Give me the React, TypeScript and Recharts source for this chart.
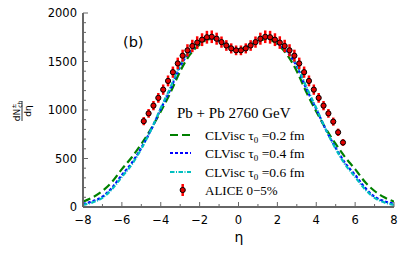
import React from 'react';
import { ComposedChart, Line, Scatter, XAxis, YAxis, ErrorBar, Customized } from 'recharts';

// Model curves (CLVisc) sampled in eta
const ETA_MODEL = [-8, -7.5, -7, -6.5, -6, -5.5, -5, -4.5, -4, -3.5, -3, -2.5, -2, -1.5, -1, -0.5, 0, 0.5, 1, 1.5, 2, 2.5, 3, 3.5, 4, 4.5, 5, 5.5, 6, 6.5, 7, 7.5, 8];
const TAU02 = [55, 100, 165, 260, 390, 510, 650, 805, 985, 1180, 1400, 1570, 1675, 1730, 1712, 1655, 1625, 1655, 1712, 1730, 1675, 1570, 1400, 1180, 985, 805, 650, 510, 390, 260, 165, 100, 55];
const TAU04 = [31, 60, 106, 200, 330, 450, 610, 795, 1010, 1215, 1450, 1600, 1688, 1740, 1712, 1655, 1620, 1655, 1712, 1740, 1688, 1600, 1450, 1215, 1010, 795, 610, 450, 330, 200, 106, 60, 31];
const TAU06 = [22, 48, 95, 185, 310, 435, 600, 795, 1020, 1235, 1465, 1612, 1695, 1742, 1712, 1652, 1618, 1652, 1712, 1742, 1695, 1612, 1465, 1235, 1020, 795, 600, 435, 310, 185, 95, 48, 22];

// ALICE 0-5% data
const ALICE_ETA = [-4.875, -4.625, -4.375, -4.125, -3.875, -3.625, -3.375, -3.125, -2.875, -2.625, -2.375, -2.125, -1.875, -1.625, -1.375, -1.125, -0.875, -0.625, -0.375, -0.125, 0.125, 0.375, 0.625, 0.875, 1.125, 1.375, 1.625, 1.875, 2.125, 2.375, 2.625, 2.875, 3.125, 3.375, 3.625, 3.875, 4.125, 4.375, 4.625, 4.875, 5.125, 5.375];
const ALICE_VAL = [885, 965, 1045, 1125, 1210, 1300, 1390, 1480, 1560, 1615, 1660, 1695, 1725, 1750, 1755, 1735, 1700, 1665, 1635, 1615, 1615, 1635, 1665, 1700, 1735, 1755, 1750, 1725, 1695, 1660, 1615, 1560, 1480, 1390, 1300, 1210, 1125, 1045, 965, 880, 770, 665];
const ALICE_ERR = [42, 45, 48, 50, 53, 56, 58, 60, 62, 63, 64, 65, 66, 66, 65, 62, 58, 55, 52, 50, 50, 52, 55, 58, 62, 65, 66, 66, 65, 64, 63, 62, 60, 58, 56, 53, 50, 48, 45, 42, 38, 35];

const X_TICKS = [-8, -7, -6, -5, -4, -3, -2, -1, 0, 1, 2, 3, 4, 5, 6, 7, 8];
const X_LABELS = [-8, -6, -4, -2, 0, 2, 4, 6, 8];
const Y_TICKS = [0, 100, 200, 300, 400, 500, 600, 700, 800, 900, 1000, 1100, 1200, 1300, 1400, 1500, 1600, 1700, 1800, 1900, 2000];
const Y_LABELS = [0, 500, 1000, 1500, 2000];

const LEGEND = ['CLVisc τ0 =0.2 fm', 'CLVisc τ0 =0.4 fm', 'CLVisc τ0 =0.6 fm', 'ALICE 0−5%'];
const TITLE = 'Pb + Pb 2760 GeV';
const PANEL = '(b)';

const toPts = (vals: number[]) => ETA_MODEL.map((e, i) => ({ eta: e, v: vals[i] }));
const g02 = toPts(TAU02);
const g04 = toPts(TAU04);
const g06 = toPts(TAU06);
const alice = ALICE_ETA.map((e, i) => ({ eta: e, v: ALICE_VAL[i], err: ALICE_ERR[i] }));

const AX = '#666666';
const SANS = 'DejaVu Sans, sans-serif';
const SERIF = 'Liberation Serif, Times New Roman, serif';
const fmt = (v: number) => String(v).replace('-', '\u2212');
const OFF = 6; // chart is shifted up by OFF px so the top label has room

const BottomTick = (p: any) => {
  const v = p.payload.value;
  const major = X_LABELS.includes(v);
  return (
    <g>
      <line x1={p.x} x2={p.x} y1={p.y} y2={p.y - (major ? 5 : 3)} stroke={AX} strokeWidth={1} />
      {major && (
        <text x={p.x} y={p.y + 17} textAnchor="middle" fontSize={11.5} fontFamily={SANS} fill="#000">{fmt(v)}</text>
      )}
    </g>
  );
};
const TopTick = (p: any) => {
  const v = p.payload.value;
  const major = X_LABELS.includes(v);
  return <line x1={p.x} x2={p.x} y1={p.y} y2={p.y + (major ? 5 : 3)} stroke={AX} strokeWidth={1} />;
};
const LeftTick = (p: any) => {
  const v = p.payload.value;
  const major = Y_LABELS.includes(v);
  return (
    <g>
      <line x1={p.x} x2={p.x + (major ? 5 : 3)} y1={p.y} y2={p.y} stroke={AX} strokeWidth={1} />
      {major && (
        <text x={p.x - 6} y={p.y + 4} textAnchor="end" fontSize={11.5} fontFamily={SANS} fill="#000">{v}</text>
      )}
    </g>
  );
};
const RightTick = (p: any) => {
  const v = p.payload.value;
  const major = Y_LABELS.includes(v);
  return <line x1={p.x} x2={p.x - (major ? 5 : 3)} y1={p.y} y2={p.y} stroke={AX} strokeWidth={1} />;
};

const Dot = (p: any) => <circle cx={p.cx} cy={p.cy} r={2.6} fill="#e00000" stroke="#000" strokeWidth={1} />;

const YLabel = () => (
  <g transform={`translate(14,${103 + OFF}) rotate(-90)`} fontFamily={SANS} fill="#000">
    <text x={0} y={-2.5} textAnchor="middle" fontSize={9}>
      dN<tspan fontSize={6} dy={-4}>±</tspan><tspan fontSize={6} dy={6} dx={-4}>ch</tspan>
    </text>
    <line x1={-10} x2={10} y1={0} y2={0} stroke="#000" strokeWidth={0.8} />
    <text x={0} y={9} textAnchor="middle" fontSize={9}>dη</text>
  </g>
);

const Annotations = () => {
  const rows = [127, 145, 164, 182].map((r) => r + OFF);
  const tx = 197;
  return (
    <g>
      <text x={115} y={39 + OFF} fontSize={14.5} fontFamily={SANS} fill="#000">{PANEL}</text>
      <text x={169} y={110 + OFF} fontSize={15} fontFamily={SERIF} fill="#000">{TITLE}</text>
      <line x1={162} x2={183} y1={rows[0]} y2={rows[0]} stroke="#008000" strokeWidth={2.2} strokeDasharray="8 4" />
      <line x1={162} x2={183} y1={rows[1]} y2={rows[1]} stroke="#0000ff" strokeWidth={2.2} strokeDasharray="3 2" />
      <line x1={162} x2={183} y1={rows[2]} y2={rows[2]} stroke="#00bfbf" strokeWidth={2.2} strokeDasharray="4.5 1.5 1 1.5" />
      <line x1={174.7} x2={174.7} y1={rows[3] - 6} y2={rows[3] + 6} stroke="#ff0000" strokeWidth={2.5} />
      <circle cx={174.7} cy={rows[3]} r={2.6} fill="#e00000" stroke="#000" strokeWidth={1} />
      {LEGEND.slice(0, 3).map((s, i) => {
        const [pre, post] = s.split('τ0');
        return (
          <text key={i} x={tx} y={rows[i] + 4.5} fontSize={13.5} fontFamily={SERIF} fill="#000">
            {pre}τ<tspan fontSize={9} dy={3}>0</tspan><tspan dy={-3}>{post}</tspan>
          </text>
        );
      })}
      <text x={tx} y={rows[3] + 4.5} fontSize={13} fontFamily={SERIF} fill="#000">{LEGEND[3]}</text>
      <text x={231} y={234 + OFF} textAnchor="middle" fontSize={14} fontFamily={SANS} fill="#000">η</text>
      <YLabel />
    </g>
  );
};

export default function App() {
  return (
    <div style={{ marginTop: -OFF }}>
      <ComposedChart width={415} height={260 + OFF} margin={{ top: 5 + OFF, right: 29, left: 0, bottom: 31 }}>
        <XAxis xAxisId="b" dataKey="eta" type="number" domain={[-8, 8]} ticks={X_TICKS} allowDataOverflow
          orientation="bottom" height={30} tickSize={0} tickMargin={0} tickLine={false}
          axisLine={{ stroke: AX, strokeWidth: 2 }} tick={BottomTick} interval={0} />
        <XAxis xAxisId="t" dataKey="eta" type="number" domain={[-8, 8]} ticks={X_TICKS} allowDataOverflow
          orientation="top" height={0} tickSize={0} tickMargin={0} tickLine={false}
          axisLine={{ stroke: AX, strokeWidth: 1.2 }} tick={TopTick} interval={0} />
        <YAxis yAxisId="l" type="number" domain={[0, 2000]} ticks={Y_TICKS} allowDataOverflow
          orientation="left" width={75} tickSize={0} tickMargin={0} tickLine={false}
          axisLine={{ stroke: AX, strokeWidth: 2 }} tick={LeftTick} interval={0} />
        <YAxis yAxisId="r" type="number" domain={[0, 2000]} ticks={Y_TICKS} allowDataOverflow
          orientation="right" width={0} tickSize={0} tickMargin={0} tickLine={false}
          axisLine={{ stroke: AX, strokeWidth: 1.2 }} tick={RightTick} interval={0} />
        <Line xAxisId="b" yAxisId="l" data={g02} dataKey="v" type="monotone" dot={false} stroke="#008000" strokeWidth={2.2} strokeDasharray="8 4" isAnimationActive={false} />
        <Line xAxisId="b" yAxisId="l" data={g04} dataKey="v" type="monotone" dot={false} stroke="#0000ff" strokeWidth={2.2} strokeDasharray="3 2" isAnimationActive={false} />
        <Line xAxisId="b" yAxisId="l" data={g06} dataKey="v" type="monotone" dot={false} stroke="#00bfbf" strokeWidth={2.2} strokeDasharray="4.5 1.5 1 1.5" isAnimationActive={false} />
        <Scatter xAxisId="b" yAxisId="l" data={alice} dataKey="v" shape={Dot} isAnimationActive={false}>
          <ErrorBar dataKey="err" direction="y" width={0} stroke="#ff0000" strokeWidth={2.5} />
        </Scatter>
        <Customized component={Annotations} />
      </ComposedChart>
    </div>
  );
}
